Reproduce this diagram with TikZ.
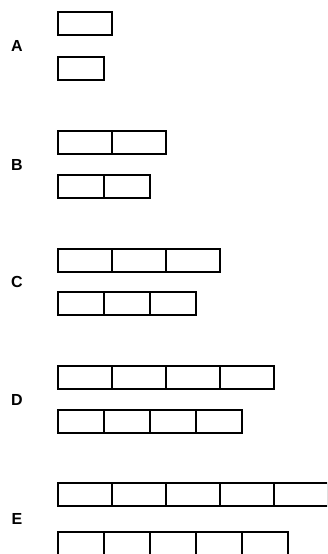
\documentclass[tikz,border=0pt]{standalone}
\usepackage{fontspec}
\setsansfont{Liberation Sans}
\tikzset{
  buchst/.style={font=\sffamily\bfseries\fontsize{16}{16}\selectfont, inner sep=0pt},
  zelle/.style={line width=1.9pt}
}
\begin{document}
\begin{tikzpicture}[x=1pt,y=-1pt]
  \useasboundingbox (0,0) rectangle (327,554);
  \clip (0,0) rectangle (327,554);

  % Reihen A bis E
  \foreach \lab/\n/\yo/\yu in {A/1/12/57, B/2/131/175, C/3/249/292, D/4/366/410, E/5/483/532} {
    \node[buchst] (lab\lab) at (17,{(\yo+\yu+23)/2}) {\lab};
    \foreach \i in {1,...,\n} {
      \draw[zelle] ({58+54*(\i-1)},\yo) rectangle +(54,23);
      \draw[zelle] ({58+46*(\i-1)},\yu) rectangle +(46,23);
    }
  }
\end{tikzpicture}
\end{document}
